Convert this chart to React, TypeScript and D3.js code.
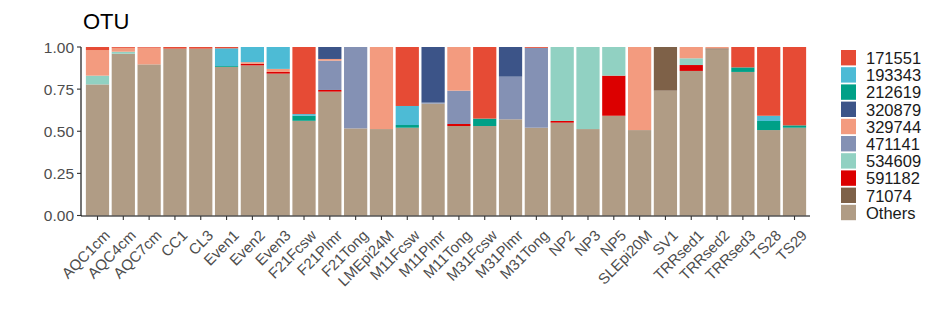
import React from "react";
import * as d3 from "d3";

const samples = ["AQC1cm","AQC4cm","AQC7cm","CC1","CL3","Even1","Even2","Even3","F21Fcsw","F21Plmr","F21Tong","LMEpi24M","M11Fcsw","M11Plmr","M11Tong","M31Fcsw","M31Plmr","M31Tong","NP2","NP3","NP5","SLEpi20M","SV1","TRRsed1","TRRsed2","TRRsed3","TS28","TS29"];

const otu171551 = [.018,.005,.004,.01,.01,.008,0,0,.398,0,0,0,.35,0,0,.425,0,.005,0,0,0,0,0,0,0,.121,.408,.465];
const otu193343 = [0,0,0,0,0,.105,.09,.13,.01,0,0,0,.113,0,0,0,0,0,0,0,0,0,0,0,0,0,.031,0];
const otu212619 = [0,0,0,0,0,.005,0,0,.03,0,0,0,.016,0,0,.044,0,0,0,0,0,0,0,0,0,.027,.054,.014];
const otu320879 = [0,0,0,0,0,0,0,0,0,.071,0,0,0,.33,0,0,.176,0,0,0,0,0,0,0,0,0,0,0];
const otu329744 = [.152,.023,.099,0,0,0,.01,.018,0,.01,0,.487,0,0,.259,0,0,0,0,0,0,.493,0,.067,.008,0,0,0];
const otu471141 = [0,0,0,0,0,0,0,0,0,.174,.483,0,0,.006,.198,0,.253,.474,0,0,0,0,0,0,0,0,0,0];
const otu534609 = [.052,.012,0,0,0,0,0,0,0,0,0,0,0,0,0,0,0,0,.439,.487,.17,0,0,.04,0,0,0,0];
const otu591182 = [0,0,0,0,0,0,.009,.01,0,.01,0,0,0,0,.012,0,0,0,.01,0,.238,0,0,.035,0,0,0,0];
const otu71074 = [0,0,0,0,0,0,0,0,0,0,0,0,0,0,0,0,0,0,0,0,0,0,.259,0,.007,0,0,0];
const others = [.778,.96,.897,.99,.99,.882,.891,.842,.562,.735,.517,.513,.521,.664,.531,.531,.571,.521,.551,.513,.592,.507,.741,.858,.985,.852,.507,.521];

const legendKeys = ["171551","193343","212619","320879","329744","471141","534609","591182","71074","Others"];
const seriesValues = [otu171551, otu193343, otu212619, otu320879, otu329744, otu471141, otu534609, otu591182, otu71074, others];
const palette = ["#E64B35","#4DBBD5","#00A087","#3C5488","#F39B7F","#8491B4","#91D1C2","#DC0000","#7E6148","#B09C85"];
const yTicks = [0, 0.25, 0.5, 0.75, 1];

const W = 947, H = 329;
const L = 82, R = 810, T = 47, B = 215.5;
const FONT = "'Liberation Sans', Arial, sans-serif";

export default function App() {
  const rows = samples.map((s, i) => {
    const r: any = { sample: s };
    legendKeys.forEach((k, j) => (r[k] = seriesValues[j][i]));
    return r;
  });
  const stackKeys = [...legendKeys].reverse();
  const stacked = d3.stack<any>().keys(stackKeys)(rows);
  const color = d3.scaleOrdinal<string, string>().domain(legendKeys).range(palette);
  const x = d3.scaleBand<string>().domain(samples).range([L, R]).paddingInner(0.1).paddingOuter(0.15);
  const y = d3.scaleLinear().domain([0, 1]).range([B, T]);

  return (
    <svg width={W} height={H} style={{ position: "absolute", left: 0, top: 0, background: "#fff" }} fontFamily={FONT}>
      <text x={83} y={29} fontSize={22} fill="#000">OTU</text>
      {stacked.map((layer) => (
        <g key={layer.key} fill={color(layer.key)}>
          {layer.map((d, i) => {
            const h = y(d[0]) - y(d[1]);
            if (h <= 0) return null;
            return <rect key={i} x={x(samples[i])} width={x.bandwidth()} y={y(d[1])} height={h} />;
          })}
        </g>
      ))}
      {/* y axis */}
      <line x1={L - 1} x2={L - 1} y1={T} y2={B + 0.5} stroke="#000" strokeWidth={1.1} />
      {yTicks.map((t) => (
        <g key={t}>
          <line x1={L - 5} x2={L - 1} y1={y(t)} y2={y(t)} stroke="#333" strokeWidth={1.1} />
          <text x={L - 8} y={y(t)} dy="0.36em" textAnchor="end" fontSize={15.5} fill="#4d4d4d">{d3.format(".2f")(t)}</text>
        </g>
      ))}
      {/* x axis */}
      <line x1={L - 1} x2={R} y1={B + 0.5} y2={B + 0.5} stroke="#000" strokeWidth={1.1} />
      {samples.map((s) => {
        const cx = (x(s) as number) + x.bandwidth() / 2;
        return (
          <g key={s}>
            <line x1={cx} x2={cx} y1={B + 0.5} y2={B + 4.5} stroke="#333" strokeWidth={1.1} />
            <text transform={`translate(${cx + 5.5},${B + 13}) rotate(-45)`} textAnchor="end" dy="0.75em" fontSize={15} fill="#4d4d4d">{s}</text>
          </g>
        );
      })}
      {/* legend */}
      {legendKeys.map((k, i) => (
        <g key={k} transform={`translate(841,${50 + i * 17.2})`}>
          <rect width={15} height={15.4} fill={color(k)} />
          <text x={25} y={8} dy="0.36em" fontSize={16.5} fill="#1a1a1a">{k}</text>
        </g>
      ))}
    </svg>
  );
}
